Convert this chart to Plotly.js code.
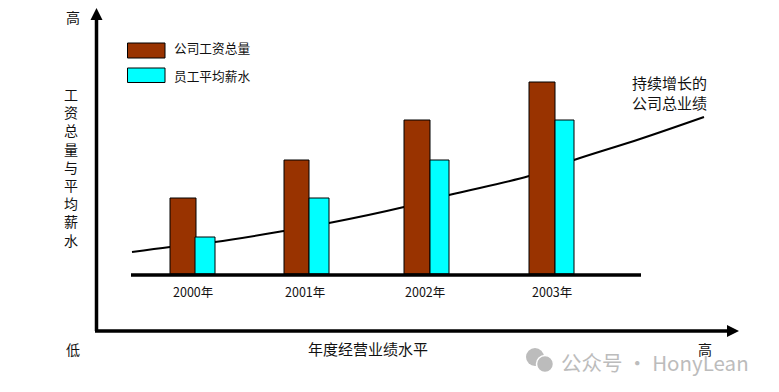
<!DOCTYPE html>
<html><head><meta charset="utf-8">
<script src="https://cdn.plot.ly/plotly-3.0.1.min.js"></script>
<style>html,body{margin:0;padding:0;background:#fff}#c{width:779px;height:392px}</style>
</head><body><div id="c"></div>
<script>
const years = ['2000年','2001年','2002年','2003年'];
const payrollX = [183,296.5,417,542];
const payrollW = [26,25,26,26];
const payroll = [76,114,154,192];
const wageX = [205,319,439.5,564.5];
const wageW = [20,20,19,19];
const wage = [37,76,114,154];
const yearLabelX = [193,305,425,552];
const curveX = [132,170,215,284,329,404,449,529,574,640,704];
const curveY = [22,27,32,43,51,67,79,98,114,135,157];
const yTitle = ['工','资','总','量','与','平','均','薪','水'];
const names = ['公司工资总量','员工平均薪水'];
const brown = '#993300', cyan = '#00FFFF';
const cjk = '"Noto Sans CJK SC","Liberation Sans",sans-serif';
const ann = (x,y,text,size,extra) => Object.assign({xref:'x',yref:'y',x,y,text,showarrow:false,
  font:{family:cjk,size:size||12,color:'#111'},xanchor:'center',yanchor:'middle'},extra||{});
const line = (x0,y0,x1,y1,w) => ({type:'line',xref:'x',yref:'y',x0,y0,x1,y1,line:{color:'#000',width:w}});
const tri = p => ({type:'path',xref:'x',yref:'y',path:p,fillcolor:'#000',line:{width:0}});
const rect = (x0,y0,x1,y1,c) => ({type:'rect',xref:'x',yref:'y',x0,y0,x1,y1,fillcolor:c,line:{color:'#000',width:1}});
const circ = (cx,cy,r,c,o) => ({type:'circle',xref:'x',yref:'y',x0:cx-r,x1:cx+r,y0:cy-r,y1:cy+r,fillcolor:c,line:o?{color:'#fff',width:1.5}:{width:0}});
const axisOff = {visible:false,fixedrange:true};
const traces = [
 {type:'scatter',mode:'lines',x:curveX,y:curveY,line:{color:'#000',width:2,shape:'spline'},xaxis:'x',yaxis:'y',hoverinfo:'skip'},
 {type:'bar',x:payrollX,y:payroll,width:payrollW,name:names[0],marker:{color:brown,line:{color:'#000',width:1}},xaxis:'x2',yaxis:'y2'},
 {type:'bar',x:wageX,y:wage,width:wageW,name:names[1],marker:{color:cyan,line:{color:'#000',width:1}},xaxis:'x2',yaxis:'y2'}
];
const layout = {
 width:779,height:392,margin:{l:0,r:0,t:0,b:0},showlegend:false,barmode:'overlay',
 paper_bgcolor:'#fff',plot_bgcolor:'#fff',
 xaxis:Object.assign({range:[0,779]},axisOff),
 yaxis:Object.assign({range:[-118,274]},axisOff),
 xaxis2:Object.assign({range:[0,779],overlaying:'x'},axisOff),
 yaxis2:Object.assign({range:[-118,274],overlaying:'y'},axisOff),
 shapes:[
  line(96.5,-57,96.5,255,3.5), line(95,-57,728,-57,3.5),
  tri('M96.5,266 L90.5,254 L102.5,254 Z'), tri('M739,-57 L727,-63 L727,-51 Z'),
  line(131,-1,641,-1,3.5),
  rect(127.5,231,165,216,brown), rect(127.5,206,165,191.5,cyan),
  circ(535,-83,9,'#bcbcbc'), circ(545,-90,8.5,'#bcbcbc',true)
 ],
 annotations:[
  ...years.map((t,i)=>ann(yearLabelX[i],-17,t,12.5)),
  ann(71,107,yTitle.join('<br>'),14),
  ann(73,257,'高',14), ann(73,-75,'低',14), ann(705,-75,'高',14),
  ann(368,-74,'年度经营业绩水平',15),
  ann(172,227,names[0],12.7,{xanchor:'left'}), ann(172,199,names[1],12.7,{xanchor:'left'}),
  ann(669,181.5,'持续增长的<br>公司总业绩',15),
  ann(559,-88,'公众号 · HonyLean',20.5,{xanchor:'left',font:{family:'"Noto Sans CJK SC","Noto Sans",sans-serif',size:20.5,color:'#bcbcbc'}})
 ]
};
Plotly.newPlot('c',traces,layout,{displayModeBar:false,staticPlot:true});
</script></body></html>
